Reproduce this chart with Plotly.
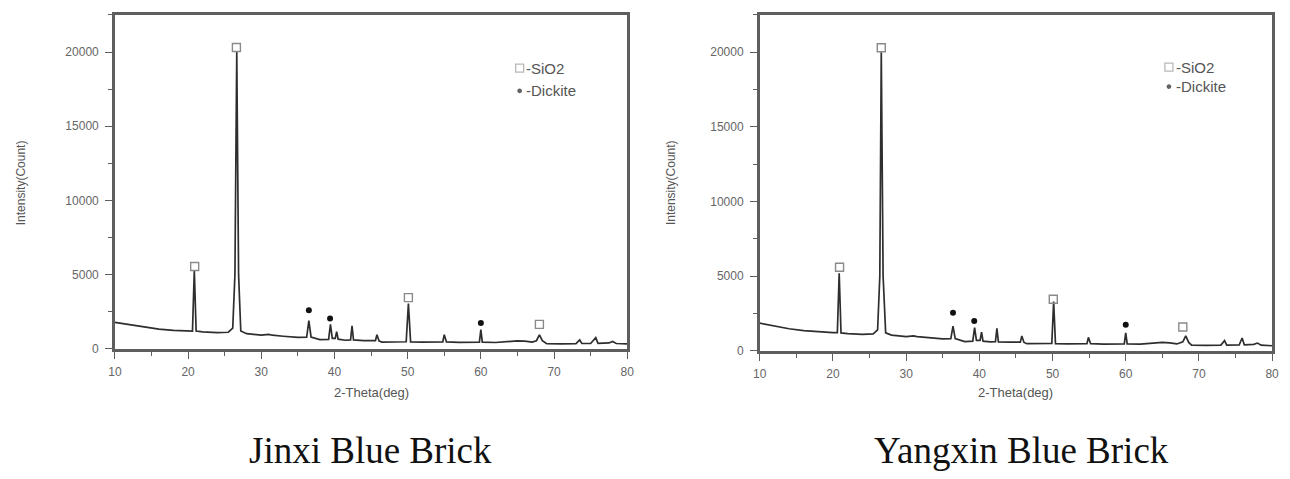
import plotly.graph_objects as go

# ---------------- data ----------------
jinxi_theta = [10, 12, 14, 16, 18, 20, 20.6, 20.85, 21.1, 22, 24, 25.5, 26.1, 26.4, 26.65, 26.9, 27.2,
               28, 30, 31, 31.5, 33, 35, 36.2, 36.5, 36.8, 38, 39.2, 39.45, 39.7, 40.1, 40.3, 40.5,
               41.5, 42.2, 42.4, 42.6, 44, 45.6, 45.8, 46.1, 46.5, 48, 49.8, 50.1, 50.4, 52, 54,
               54.8, 55, 55.3, 57, 59.8, 60, 60.2, 62, 64, 65, 66, 67, 67.6, 68, 68.4, 69, 71, 73,
               73.5, 73.8, 75, 75.7, 76, 77.5, 78, 78.5, 80]
jinxi_count = [1780, 1620, 1450, 1330, 1250, 1200, 1200, 5300, 1200, 1150, 1100, 1120, 1400, 5000, 20000, 5000, 1200,
               1020, 930, 980, 920, 850, 770, 780, 1900, 800, 620, 640, 1650, 700, 700, 1150, 650,
               580, 600, 1550, 600, 560, 560, 950, 520, 460, 470, 480, 3050, 470, 460, 450,
               470, 950, 470, 440, 450, 1300, 450, 430, 500, 540, 520, 450, 550, 950, 550, 350, 340, 350,
               600, 360, 360, 750, 370, 400, 500, 360, 330]

yangxin_theta = [10, 12, 14, 16, 18, 20, 20.6, 20.85, 21.1, 22, 24, 25.5, 26.1, 26.4, 26.6, 26.85, 27.2,
                 28, 30, 31, 31.5, 33, 35, 36.1, 36.4, 36.7, 38, 39.1, 39.35, 39.6, 40.1, 40.3, 40.5,
                 41.5, 42.2, 42.4, 42.6, 44, 45.6, 45.8, 46.1, 46.5, 48, 49.9, 50.15, 50.4, 52, 54.7,
                 54.9, 55.2, 57, 59.8, 60, 60.2, 62, 64, 65, 66, 67, 67.8, 68.2, 68.6, 69, 71, 73,
                 73.5, 73.8, 75.5, 75.9, 76.2, 77.5, 78, 78.5, 80]
yangxin_count = [1850, 1650, 1480, 1350, 1270, 1220, 1220, 5200, 1200, 1150, 1100, 1130, 1400, 5000, 20000, 5000, 1200,
                 1050, 950, 1000, 950, 870, 800, 820, 1650, 820, 620, 650, 1550, 700, 700, 1250, 650,
                 600, 620, 1500, 600, 580, 580, 1000, 560, 480, 480, 490, 3300, 480, 470, 480,
                 900, 480, 450, 460, 1200, 460, 450, 520, 560, 530, 460, 600, 1000, 560, 380, 370, 380,
                 680, 380, 390, 860, 400, 430, 520, 380, 340]

# phase markers (2-theta, marker height)
jinxi_sio2_theta = [20.9, 26.6, 50.1, 68.0]
jinxi_sio2_y = [5550, 20300, 3450, 1650]
jinxi_dick_theta = [36.5, 39.4, 60.0]
jinxi_dick_y = [2600, 2050, 1750]

yangxin_sio2_theta = [20.9, 26.6, 50.1, 67.8]
yangxin_sio2_y = [5600, 20300, 3450, 1600]
yangxin_dick_theta = [36.4, 39.3, 60.0]
yangxin_dick_y = [2550, 2000, 1750]

panel_titles = ["Jinxi Blue Brick", "Yangxin Blue Brick"]
legend_labels = ["-SiO2", "-Dickite"]
x_ticks = [10, 20, 30, 40, 50, 60, 70, 80]
y_ticks = [0, 5000, 10000, 15000, 20000]

# ---------------- figure ----------------
OFF = 8  # default body margin of the html page (top / left)
W, H = 1290 - OFF, 479 - OFF
line_col = "#2e2e2e"
frame_col = "#5e5e5e"
tick_font = dict(family="Liberation Sans, Arial, sans-serif", size=12, color="#666666")

fig = go.Figure()

panels = [
    dict(xa="x", ya="y", theta=jinxi_theta, cnt=jinxi_count,
         st=jinxi_sio2_theta, sy=jinxi_sio2_y, dt=jinxi_dick_theta, dy=jinxi_dick_y,
         px=(109, 627), py=(15, 354), key_x=65.3, key_tx=65.95, key_y=[18910, 17385]),
    dict(xa="x2", ya="y2", theta=yangxin_theta, cnt=yangxin_count,
         st=yangxin_sio2_theta, sy=yangxin_sio2_y, dt=yangxin_dick_theta, dy=yangxin_dick_y,
         px=(761, 1279), py=(15, 356), key_x=65.9, key_tx=66.6, key_y=[19000, 17700]),
]

for p in panels:
    fig.add_trace(go.Scatter(x=p["theta"], y=p["cnt"], mode="lines", xaxis=p["xa"], yaxis=p["ya"],
                             line=dict(color=line_col, width=1.7), showlegend=False, hoverinfo="skip"))
    fig.add_trace(go.Scatter(x=p["st"], y=p["sy"], mode="markers", xaxis=p["xa"], yaxis=p["ya"],
                             marker=dict(symbol="square-open", size=8, color="#8a8a8a", line=dict(width=1.4)),
                             showlegend=False))
    fig.add_trace(go.Scatter(x=p["dt"], y=p["dy"], mode="markers", xaxis=p["xa"], yaxis=p["ya"],
                             marker=dict(symbol="circle", size=6, color="#111111"), showlegend=False))
    # in-plot key
    fig.add_trace(go.Scatter(x=[p["key_x"], p["key_x"]], y=p["key_y"], mode="markers",
                             xaxis=p["xa"], yaxis=p["ya"],
                             marker=dict(symbol=["square-open", "circle"], size=[8, 6],
                                         color=["#9a9a9a", "#222222"], line=dict(width=1.3)),
                             showlegend=False, hoverinfo="skip"))
    for lab, yy in zip(legend_labels, p["key_y"]):
        fig.add_annotation(x=p["key_tx"], y=yy, xref=p["xa"], yref=p["ya"], text=lab, showarrow=False,
                           xanchor="left", yanchor="middle",
                           font=dict(family="Liberation Sans, Arial, sans-serif", size=15, color="#555555"))

axis_common = dict(showline=True, mirror=True, linecolor=frame_col, linewidth=2.5,
                   showgrid=False, zeroline=False, ticks="outside", ticklen=7, tickwidth=1.3,
                   tickcolor=frame_col, tickfont=tick_font, tickformat="d")

layout = dict(width=W, height=H, margin=dict(l=0, r=0, t=0, b=0),
              paper_bgcolor="white", plot_bgcolor="white", showlegend=False)

for i, p in enumerate(panels):
    sx = "" if i == 0 else "2"
    x0, x1 = p["px"][0] - OFF, p["px"][1] - OFF
    y0, y1 = p["py"][0] - OFF, p["py"][1] - OFF
    xd = [x0 / W, x1 / W]
    yd = [1 - y1 / H, 1 - y0 / H]
    layout["xaxis" + sx] = dict(axis_common, domain=xd, range=[10, 80], tickvals=x_ticks,
                                anchor="y" + sx, ticklabelstandoff=3,
                                minor=dict(ticks="outside", dtick=5, ticklen=4, tickcolor=frame_col))
    layout["yaxis" + sx] = dict(axis_common, domain=yd, range=[0, 22500], tickvals=y_ticks,
                                anchor="x" + sx, ticklabelstandoff=4,
                                minor=dict(ticks="outside", dtick=2500, ticklen=4, tickcolor=frame_col))

fig.update_layout(**layout)

# axis titles and panel captions
ytitle_x = [14, 672]
for i, p in enumerate(panels):
    cx = (p["px"][0] + p["px"][1]) / 2 - OFF
    fig.add_annotation(x=cx / W, y=1 - (398 - OFF) / H, xref="paper", yref="paper", text="2-Theta(deg)",
                       showarrow=False, xanchor="center", yanchor="middle",
                       font=dict(family="Liberation Sans, Arial, sans-serif", size=13, color="#555555"))
    fig.add_annotation(x=(ytitle_x[i] - OFF) / W, y=1 - (185 - OFF) / H, xref="paper", yref="paper",
                       text="Intensity(Count)", textangle=-90, showarrow=False,
                       xanchor="center", yanchor="middle",
                       font=dict(family="Liberation Sans, Arial, sans-serif", size=12, color="#555555"))
    capx = [367, 1026][i] - OFF
    fig.add_annotation(x=capx / W, y=1 - (457 - OFF) / H, xref="paper", yref="paper", text=panel_titles[i],
                       showarrow=False, xanchor="center", yanchor="middle",
                       font=dict(family="Liberation Serif, Times New Roman, serif", size=37, color="#111111"))

fig.write_html("out.html")
